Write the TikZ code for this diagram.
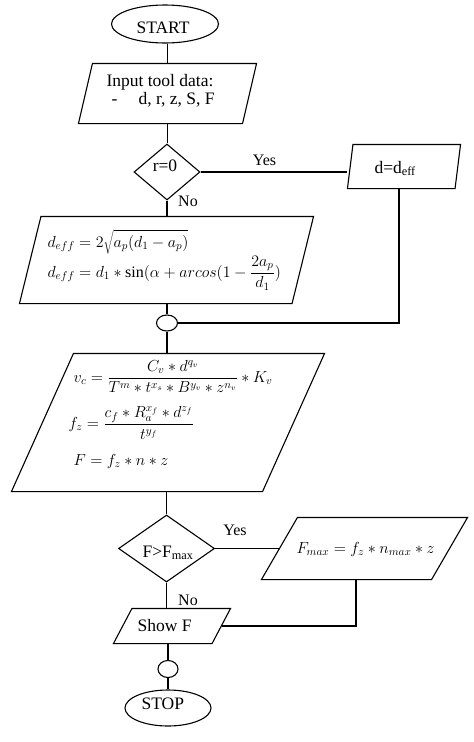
\RequirePackage{fix-cm}
\documentclass[tikz,border=0pt]{standalone}
\usepackage{fontspec}
\setmainfont{Liberation Serif}
\usetikzlibrary{shapes.geometric}
\tikzset{
  every picture/.style={line width=1.1pt},
  term/.style={draw, ellipse, inner sep=0pt},
  conn/.style={draw, ellipse, inner sep=0pt},
  decision/.style={draw, diamond, inner sep=0pt},
  parabox/.style={rectangle, draw=none, inner sep=0pt},
  txt/.style={inner sep=0pt, font=\fontsize{17.5}{20}\selectfont},
  smalltxt/.style={inner sep=0pt, font=\fontsize{16}{19}\selectfont},
  mth/.style={inner sep=0pt, font=\fontsize{16}{19}\selectfont},
}
% #1 node name, #2 slant in pt
\newcommand\drawpara[2]{%
  \draw ([xshift=#2pt]#1.north west) -- (#1.north east) -- ([xshift=-#2pt]#1.south east) -- (#1.south west) -- cycle;}
\begin{document}
\begin{tikzpicture}[x=1pt,y=-1pt]
\useasboundingbox[fill=white] (0,0) rectangle (474,742);
% shapes
\node[term, minimum width=107pt, minimum height=38pt] (start) at (165,24) {};
\node[parabox, minimum width=177pt, minimum height=59pt] (in) at (167.5,93.5) {};
\drawpara{in}{14}
\node[decision, minimum width=66pt, minimum height=56pt] (d1) at (167,172) {};
\node[parabox, minimum width=112pt, minimum height=43pt] (deq) at (404,166.5) {};
\drawpara{deq}{5.5}
\node[parabox, minimum width=293pt, minimum height=86pt] (f1) at (166.5,260) {};
\drawpara{f1}{21.5}
\node[conn, minimum width=21pt, minimum height=16pt] (c1) at (167,323) {};
\node[parabox, minimum width=312pt, minimum height=137pt] (f2) at (168,422.5) {};
\drawpara{f2}{62}
\node[decision, minimum width=96pt, minimum height=67pt] (d2) at (166.5,548.5) {};
\node[parabox, minimum width=205pt, minimum height=61pt] (fmax) at (364.5,548.5) {};
\drawpara{fmax}{36}
\node[parabox, minimum width=116pt, minimum height=34pt] (show) at (172,626) {};
\drawpara{show}{18.5}
\node[conn, minimum width=20pt, minimum height=17pt] (c2) at (168,669) {};
\node[term, minimum width=86pt, minimum height=36pt] (stop) at (168,708) {};
% texts
\node[txt, anchor=base west] (tstart) at (136,33) {START};
\node[txt, anchor=base west] (tin1) at (106,86) {Input tool data:};
\node[txt, anchor=base west] (tdash) at (111,104) {-};
\node[txt, anchor=base west] (tin2) at (138,104) {d, r, z, S, F};
\node[txt, anchor=base] (tr) at (165,171) {r=0};
\node[smalltxt, anchor=base] (tyes1) at (264.5,165) {Yes};
\node[smalltxt, anchor=base] (tno1) at (188,206) {No};
\node[txt, anchor=base west] (tdeq) at (374,173) {d=d\textsubscript{eff}};
\node[mth, anchor=base west] (tf1a) at (47,247) {$\displaystyle d_{eff} = 2\sqrt{a_p(d_1 - a_p)}$};
\node[mth, anchor=base west] (tf1b) at (47,277) {$\displaystyle d_{eff} = d_1 \ast \sin(\alpha + arcos(1 - \frac{2a_p}{d_1})$};
\node[mth, anchor=base west] (tf2a) at (73,382) {$\displaystyle v_c = \frac{C_v \ast d^{q_v}}{T^m \ast t^{x_s} \ast B^{y_v} \ast z^{n_v}} \ast K_v$};
\node[mth, anchor=base west] (tf2b) at (68,428.5) {$\displaystyle f_z = \frac{c_f \ast R_a^{x_f} \ast d^{z_f}}{t^{y_f}}$};
\node[mth, anchor=base west] (tf2c) at (73,465) {$\displaystyle F = f_z \ast n \ast z$};
\node[txt, anchor=base west] (td2) at (142,557) {F>F\textsubscript{max}};
\node[smalltxt, anchor=base] (tyes2) at (235,535) {Yes};
\node[mth, anchor=base west] (tfmax) at (296,553) {$F_{max} = f_z \ast n_{max} \ast z$};
\node[smalltxt, anchor=base] (tno2) at (188,605) {No};
\node[txt, anchor=base west] (tshow) at (137,631) {Show F};
\node[txt, anchor=base west] (tstop) at (141,709) {STOP};
% connectors
\draw (start.south -| in.north) -- (in.north);
\draw (in.south) -- (in.south |- d1.north);
\draw (d1.south) -- (d1.south |- f1.north);
\draw (d1.east) -- (d1.east -| deq.west);
\draw ([xshift=-5pt]deq.south) |- (c1.east);
\draw (f1.south -| c1.north) -- (c1.north);
\draw (c1.south) -- (c1.south |- f2.north);
\draw (f2.south -| d2.north) -- (d2.north);
\draw (d2.east) -- ([xshift=18pt]d2.east -| fmax.west);
\draw ([xshift=-8.5pt]fmax.south) |- ([xshift=-9pt]show.east);
\draw (d2.south) -- (d2.south |- show.north);
\draw (show.south -| c2.north) -- (c2.north);
\draw (c2.south) -- (c2.south |- stop.north);
\end{tikzpicture}
\end{document}
